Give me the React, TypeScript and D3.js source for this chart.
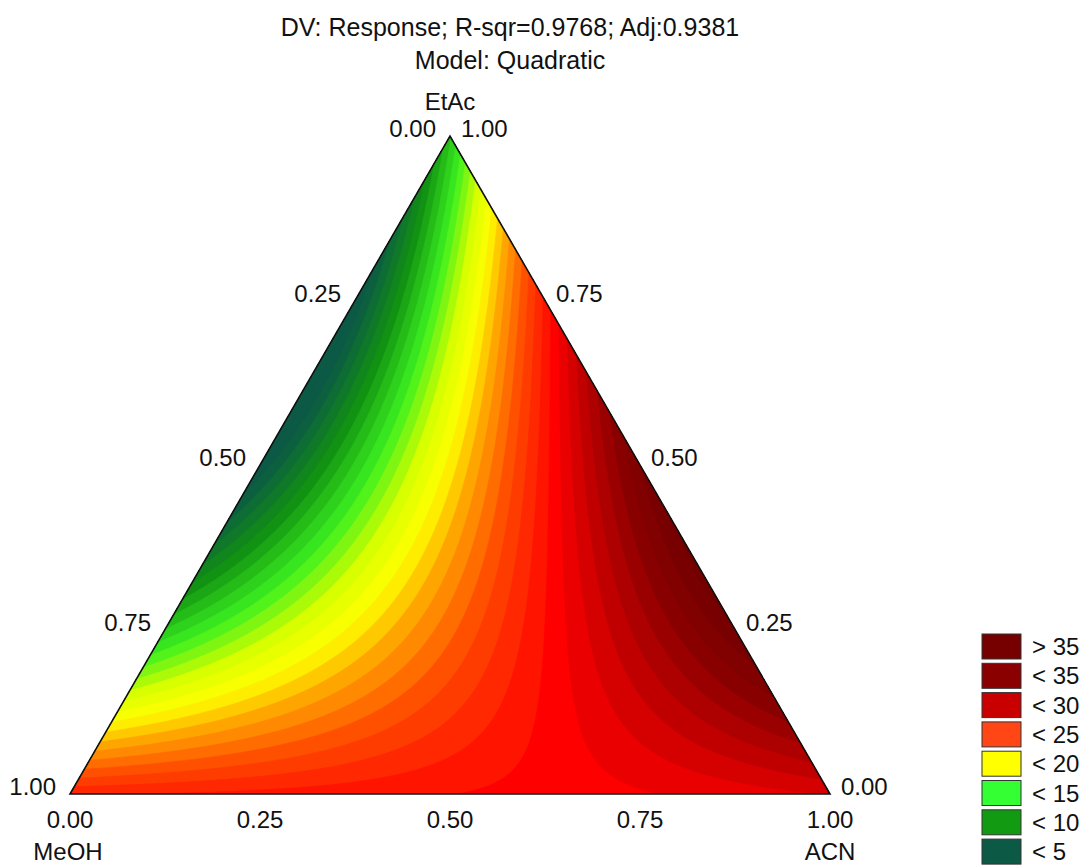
import React, { useMemo } from 'react';
import * as d3 from 'd3';

// mixture components and the quadratic (Scheffé) model
const components = ['MeOH', 'ACN', 'EtAc'];
const linearTerms = [27, 30, 11]; // MeOH, ACN, EtAc
const interactionTerms = [-2, -63, 62]; // MeOH*ACN, MeOH*EtAc, ACN*EtAc

const tickValues = [0, 0.25, 0.5, 0.75, 1];
const tickLabels = ['0.00', '0.25', '0.50', '0.75', '1.00'];

const titleLines = ['DV: Response; R-sqr=0.9768; Adj:0.9381', 'Model: Quadratic'];

const legendLabels = ['> 35', '< 35', '< 30', '< 25', '< 20', '< 15', '< 10', '< 5'];
const legendColors = ['#760000', '#8a0000', '#c80000', '#ff4614', '#ffff00', '#33ff33', '#139a13', '#0c5a45'];

// palette used for the fine contour bands
const colorStops = [4, 8.5, 13, 16.5, 19, 21.5, 24.5, 28.5, 31.5, 34.5, 37.5];
const colorRamp = ['#0c5a45', '#129212', '#3cf020', '#d8ff00', '#ffff00', '#ffa500', '#ff5000', '#ff0000', '#c00000', '#880000', '#720000'];

const WIDTH = 1086;
const HEIGHT = 867;
const FONT = '"Liberation Sans", Arial, sans-serif';

const response = (m: number, a: number, e: number) =>
  linearTerms[0] * m + linearTerms[1] * a + linearTerms[2] * e +
  interactionTerms[0] * m * a + interactionTerms[1] * m * e + interactionTerms[2] * a * e;

export default function App() {
  // bottom axis = ACN share, vertical = EtAc share
  const xScale = d3.scaleLinear().domain([0, 1]).range([70, 830]);
  const yScale = d3.scaleLinear().domain([0, 1]).range([794, 136]);
  const toXY = (a: number, e: number): [number, number] => [xScale(a + e / 2), yScale(e)];

  const color = d3.scaleLinear<string>().domain(colorStops).range(colorRamp).clamp(true);

  const bands = useMemo(() => {
    const step = 2;
    const x0 = 60, y0 = 126;
    const nx = Math.ceil((840 - x0) / step) + 1;
    const ny = Math.ceil((804 - y0) / step) + 1;
    const values = new Array(nx * ny);
    for (let j = 0; j < ny; j++) {
      for (let i = 0; i < nx; i++) {
        const px = x0 + i * step, py = y0 + j * step;
        const e = yScale.invert(py);
        const a = xScale.invert(px) - e / 2;
        values[j * nx + i] = response(1 - a - e, a, e);
      }
    }
    const levels = d3.range(-20, 46, 1);
    const contours = d3.contours().size([nx, ny]).thresholds(levels)(values);
    const path = d3.geoPath(d3.geoIdentity().scale(step).translate([x0, y0]));
    return contours.map((c) => ({ d: path(c as any) || '', fill: color(c.value + 0.5) }));
  }, []);

  const tri = [toXY(0, 0), toXY(1, 0), toXY(0, 1)];
  const triPath = `M${tri.map((p) => p.join(',')).join('L')}Z`;

  return (
    <svg width={WIDTH} height={HEIGHT} style={{ position: 'absolute', left: 0, top: 0, background: '#fff' }}
      fontFamily={FONT}>
      <defs>
        <clipPath id="tri"><path d={triPath} /></clipPath>
      </defs>

      {titleLines.map((t, i) => (
        <text key={t} x={510} y={36 + i * 33} fontSize={25} textAnchor="middle" fill="#111">{t}</text>
      ))}

      <g clipPath="url(#tri)">
        {bands.map((b, i) => (
          <path key={i} d={b.d} fill={b.fill} stroke={b.fill} strokeWidth={0.6} />
        ))}
      </g>
      <path d={triPath} fill="none" stroke="#111" strokeWidth={1.6} />

      {/* left edge: MeOH share */}
      {tickValues.map((t, i) => {
        const [x, y] = toXY(0, 1 - t);
        return <text key={'l' + i} x={x - 14} y={y + 1} fontSize={24} textAnchor="end" fill="#111">{tickLabels[i]}</text>;
      })}
      {/* right edge: EtAc share */}
      {tickValues.map((t, i) => {
        const [x, y] = toXY(1 - t, t);
        return <text key={'r' + i} x={x + 11} y={y + 1} fontSize={24} textAnchor="start" fill="#111">{tickLabels[i]}</text>;
      })}
      {/* bottom edge: ACN share */}
      {tickValues.map((t, i) => {
        const [x, y] = toXY(t, 0);
        return <text key={'b' + i} x={x} y={y + 34} fontSize={24} textAnchor="middle" fill="#111">{tickLabels[i]}</text>;
      })}

      <text x={toXY(0, 0)[0] - 2} y={860} fontSize={24} textAnchor="middle" fill="#111">{components[0]}</text>
      <text x={toXY(1, 0)[0]} y={860} fontSize={24} textAnchor="middle" fill="#111">{components[1]}</text>
      <text x={toXY(0, 1)[0]} y={110} fontSize={24} textAnchor="middle" fill="#111">{components[2]}</text>

      {legendLabels.map((l, i) => {
        const top = 634 + i * 29.3;
        return (
          <g key={l}>
            <rect x={982} y={top} width={39} height={25} fill={legendColors[i]} stroke="#333" strokeWidth={1} />
            <text x={1032} y={top + 21} fontSize={24} fill="#111">{l}</text>
          </g>
        );
      })}
    </svg>
  );
}
